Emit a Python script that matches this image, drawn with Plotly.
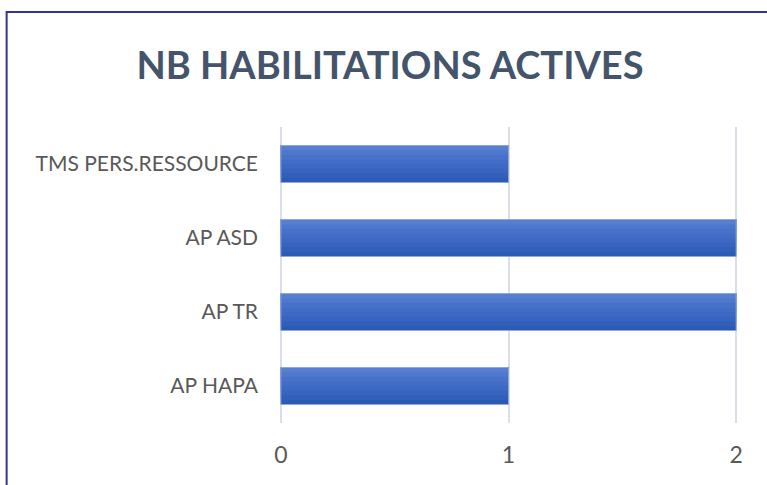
import plotly.graph_objects as go

categories = ["AP HAPA", "AP TR", "AP ASD", "TMS PERS.RESSOURCE"]
values = [1, 2, 2, 1]
x_ticks = [0, 1, 2]

# gradient bands (bottom -> top) to imitate the Excel gradient fill
band_colors = ["#2C5BB6", "#325FBA", "#3864BF", "#3D69C3", "#426DC7", "#4872CA", "#4E78CE", "#567FD1"]

fig = go.Figure()
bar_w = 0.5
n = len(band_colors)
for i, c in enumerate(band_colors):
    start = -bar_w / 2 + i * bar_w / n
    fig.add_trace(go.Bar(
        y=categories, x=values, orientation="h",
        width=bar_w / 2 - start, offset=start,
        marker=dict(color=c, line=dict(width=0)),
        hoverinfo="x+y", showlegend=False,
    ))
# light outline
fig.add_trace(go.Bar(
    y=categories, x=values, orientation="h",
    width=bar_w, offset=-bar_w / 2,
    marker=dict(color="rgba(0,0,0,0)", line=dict(color="#8EA8DB", width=1)),
    hoverinfo="skip", showlegend=False,
))

W, H = 767, 485
x0px, x2px = 281, 736          # pixel positions of x=0 and x=2
pad = 0.03                     # small range padding so edge gridlines are drawn
unit = (x2px - x0px) / 2
L = x0px - pad * unit
R = W - x2px - pad * unit
T, B = 127, 62
pw, ph = W - L - R, H - T - B

fig.update_layout(
    width=W, height=H,
    margin=dict(l=L, r=R, t=T, b=B, autoexpand=False),
    barmode="overlay",
    plot_bgcolor="white", paper_bgcolor="white",
    font=dict(family="Lato, Open Sans, sans-serif", color="#595959"),
    title=dict(text="<b>NB HABILITATIONS ACTIVES</b>", x=390 / W, xref="container",
               xanchor="center", y=1 - 66 / H, yref="container", yanchor="middle",
               font=dict(size=38, color="#44546A", family="Lato, Open Sans, sans-serif")),
    xaxis=dict(range=[-pad, 2 + pad], tickvals=x_ticks, showgrid=True, gridcolor="#D9DEE8", gridwidth=1.5,
               zeroline=False, showline=False, ticks="", tickfont=dict(size=23, color="#595959"),
               ticklabelstandoff=16, fixedrange=True),
    yaxis=dict(categoryorder="array", categoryarray=categories, showgrid=False, zeroline=False,
               showline=False, ticks="", tickfont=dict(size=21, color="#595959"),
               ticklabelstandoff=int(round(22 - pad * unit)), range=[-0.5, 3.5], fixedrange=True),
    shapes=[dict(type="rect", xref="paper", yref="paper",
                 x0=(7 - L) / pw, x1=(W + 20 - L) / pw,
                 y0=-(B + 20) / ph, y1=1 + (T - 12) / ph,
                 line=dict(color="#35358C", width=2), fillcolor="rgba(0,0,0,0)", layer="below")],
)

fig.write_html("out.html", config={"displayModeBar": False},
               post_script="document.body.style.margin='0';document.body.style.overflow='hidden';")
